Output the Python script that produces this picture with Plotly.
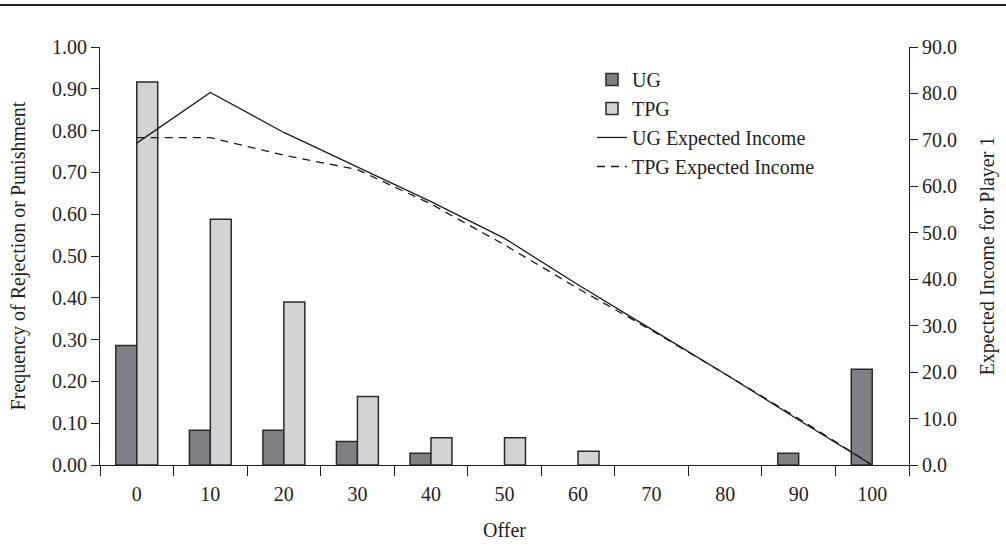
import plotly.graph_objects as go

# Offer levels (category axis)
offers = ["0", "10", "20", "30", "40", "50", "60", "70", "80", "90", "100"]

# Frequency of rejection (UG) or punishment (TPG) at each offer
ug_freq = [0.286, 0.083, 0.083, 0.056, 0.028, 0, 0, 0, 0, 0.028, 0.229]
tpg_freq = [0.916, 0.588, 0.39, 0.164, 0.065, 0.065, 0.033, 0, 0, 0, 0]

# Expected income for player 1 (right axis)
ug_income = [69.3, 80.2, 71.6, 64.2, 56.7, 48.8, 38.8, 29.2, 19.6, 9.7, 0.0]
tpg_income = [70.5, 70.5, 66.7, 63.6, 56.2, 47.4, 38.0, 29.0, 19.6, 10.0, 0.0]

FONT = "Liberation Serif"
INK = "#231f20"


def outline_widths(values, w=1.5):
    # no outline on empty bars so they don't leave a stub on the axis
    return [w if v > 0 else 0 for v in values]


fig = go.Figure()
fig.add_trace(go.Bar(
    x=offers, y=ug_freq, name="UG",
    marker=dict(color="#808084",
                line=dict(color="#2a2a2a", width=outline_widths(ug_freq))),
))
fig.add_trace(go.Bar(
    x=offers, y=tpg_freq, name="TPG",
    marker=dict(color="#d2d3d5",
                line=dict(color="#2a2a2a", width=outline_widths(tpg_freq))),
))
fig.add_trace(go.Scatter(
    x=offers, y=ug_income, name="UG Expected Income", yaxis="y2",
    mode="lines", line=dict(color="#1a1a1a", width=1.3),
))
fig.add_trace(go.Scatter(
    x=offers, y=tpg_income, name="TPG Expected Income", yaxis="y2",
    mode="lines", line=dict(color="#1a1a1a", width=1.3, dash="8px,6px"),
))

# plot area geometry (px), also used for the rule across the top
L, R, T, B = 100, 97, 47, 92.5
W, H = 1006, 558
pw, ph = W - L - R, H - T - B

fig.update_layout(
    width=W, height=H,
    margin=dict(l=L, r=R, t=T, b=B),
    paper_bgcolor="white", plot_bgcolor="white",
    font=dict(family=FONT, size=20, color=INK),
    barmode="group", bargap=0.43, bargroupgap=0,
    showlegend=True,
    legend=dict(
        x=(592 - L) / pw, y=(H - B - 60) / ph, xanchor="left", yanchor="top",
        bgcolor="rgba(0,0,0,0)", font=dict(family=FONT, size=20, color=INK),
        tracegroupgap=0,
    ),
    xaxis=dict(
        type="category", categoryorder="array", categoryarray=offers,
        range=[-0.5, 10.5], tickson="boundaries",
        ticks="outside", ticklen=10, tickwidth=1.2, tickcolor=INK,
        ticklabelstandoff=11,
        showline=True, linecolor=INK, linewidth=1.2,
        showgrid=False, zeroline=False,
        title=dict(text="Offer", font=dict(family=FONT, size=20), standoff=18),
        tickfont=dict(family=FONT, size=20),
    ),
    yaxis=dict(
        range=[0, 1.0], dtick=0.1, tickformat=".2f",
        ticks="outside", ticklen=8, tickwidth=1.2, tickcolor=INK,
        showline=True, linecolor=INK, linewidth=1.2,
        showgrid=False, zeroline=False,
        title=dict(text="Frequency of Rejection or Punishment",
                   font=dict(family=FONT, size=20), standoff=20),
        tickfont=dict(family=FONT, size=20),
    ),
    yaxis2=dict(
        overlaying="y", side="right",
        range=[0, 90], dtick=10, tickformat=".1f",
        ticks="outside", ticklen=8, tickwidth=1.2, tickcolor=INK,
        showline=True, linecolor=INK, linewidth=1.2,
        showgrid=False, zeroline=False,
        title=dict(text="Expected Income for Player 1",
                   font=dict(family=FONT, size=20), standoff=23),
        tickfont=dict(family=FONT, size=20),
    ),
    shapes=[dict(
        type="line", xref="paper", yref="paper",
        x0=(0 - L) / pw, x1=(W - L) / pw,
        y0=(H - B - 5) / ph, y1=(H - B - 5) / ph,
        line=dict(color="#222222", width=2),
    )],
)

fig.write_html("out.html")
